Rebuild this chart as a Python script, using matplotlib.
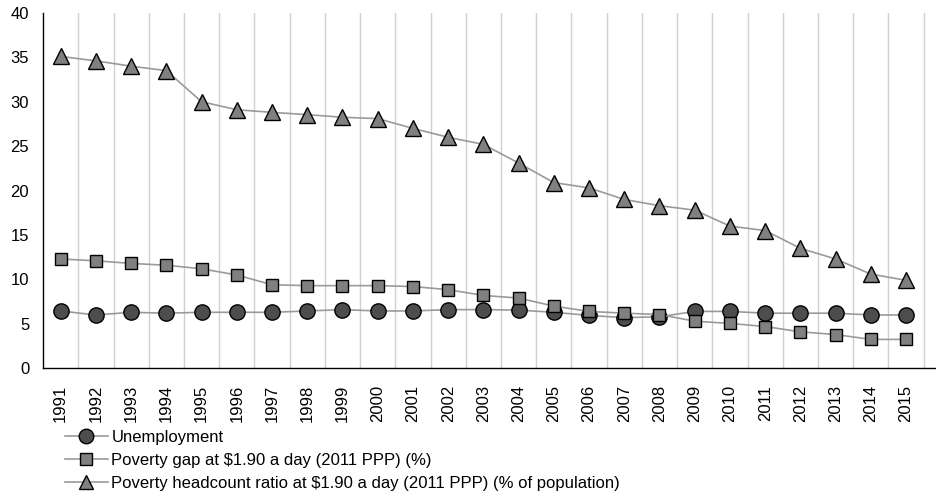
import matplotlib
matplotlib.use("Agg")
import matplotlib.pyplot as plt

plt.rcParams['font.family'] = ['Liberation Sans', 'DejaVu Sans']
plt.rcParams['font.size'] = 12

years = [str(y) for y in range(1991, 2016)]

unemployment = [6.45, 6.0, 6.3, 6.2, 6.3, 6.3, 6.3, 6.45, 6.6, 6.45, 6.45, 6.6,
                6.6, 6.55, 6.3, 5.95, 5.7, 5.8, 6.4, 6.4, 6.2, 6.2, 6.2, 6.0, 6.0]
poverty_gap = [12.3, 12.1, 11.8, 11.6, 11.2, 10.5, 9.4, 9.3, 9.3, 9.3, 9.2, 8.85,
               8.2, 7.9, 7.0, 6.4, 6.2, 6.05, 5.3, 5.05, 4.7, 4.1, 3.8, 3.25, 3.25]
headcount = [35.1, 34.6, 34.0, 33.5, 30.0, 29.1, 28.8, 28.55, 28.25, 28.1, 27.0, 26.0,
             25.2, 23.1, 20.9, 20.3, 19.0, 18.3, 17.8, 16.0, 15.5, 13.5, 12.3, 10.6, 9.9]

labels = ["Unemployment",
          "Poverty gap at $1.90 a day (2011 PPP) (%)",
          "Poverty headcount ratio at $1.90 a day (2011 PPP) (% of population)"]

fig = plt.figure(figsize=(9.36, 4.95), dpi=100)
ax = fig.add_axes([0.046, 0.256, 0.954, 0.718])

x = list(range(len(years)))
line_col = '#9a9a9a'
ax.plot(x, unemployment, color=line_col, lw=1.2, marker='o', ms=11,
        mfc='#4d4d4d', mec='black', mew=1.0, label=labels[0], zorder=3)
ax.plot(x, poverty_gap, color=line_col, lw=1.2, marker='s', ms=9,
        mfc='#808080', mec='black', mew=1.0, label=labels[1], zorder=3)
ax.plot(x, headcount, color=line_col, lw=1.2, marker='^', ms=11,
        mfc='#808080', mec='black', mew=1.0, label=labels[2], zorder=3)

for b in range(len(years)):
    ax.axvline(b + 0.5, color='#d0d0d0', lw=1.0, zorder=1)

ax.set_xlim(-0.5, 24.85)
ax.set_ylim(0, 40)
ax.set_yticks(range(0, 41, 5))
ax.set_xticks(x)
ax.set_xticklabels(years, rotation=90)
ax.tick_params(axis='both', length=0, labelsize=12)
ax.tick_params(axis='y', pad=10)
ax.tick_params(axis='x', pad=12)
for s in ['top', 'right']:
    ax.spines[s].set_visible(False)
ax.spines['left'].set_linewidth(1.0)
ax.spines['bottom'].set_linewidth(1.0)

fig.legend(loc='upper left', bbox_to_anchor=(0.062, 0.145), frameon=False,
           handlelength=2.6, handletextpad=0.2, labelspacing=0.48,
           borderaxespad=0, fontsize=12, markerscale=0.95)

fig.savefig('out.png', dpi=100)
